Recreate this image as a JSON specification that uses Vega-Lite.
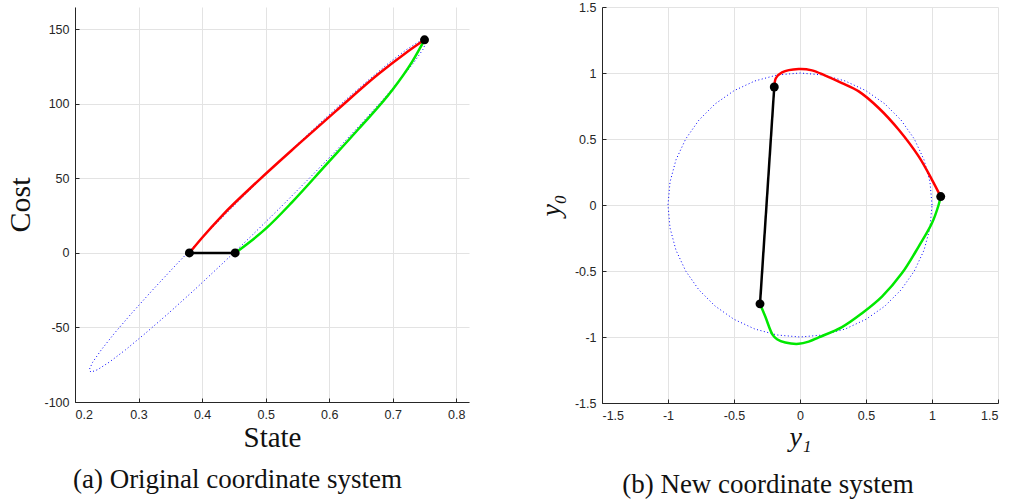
{
  "$schema": "https://vega.github.io/schema/vega-lite/v6.json",
  "background": "white",
  "padding": {"left": 5, "top": 1, "right": 3, "bottom": 3},
  "spacing": 68,
  "config": {
    "view": {"stroke": null},
    "axis": {
      "grid": true,
      "gridColor": "#e3e3e3",
      "gridWidth": 1,
      "domainColor": "#262626",
      "domainWidth": 1,
      "tickColor": "#262626",
      "tickSize": -4,
      "labelPadding": 10,
      "labelFont": "Liberation Sans",
      "labelFontSize": 12.5,
      "labelColor": "#262626",
      "titleFont": "Liberation Serif",
      "titleFontWeight": "normal",
      "titleColor": "#111111",
      "titleFontSize": 28,
      "labelExpr": "replace(format(datum.value, '~g'), '\u2212', '-')"
    }
  },
  "datasets": {
    "L": [
      {"s": "e", "i": 0, "x": 0.75, "y": 143.0},
      {"s": "e", "i": 1, "x": 0.7526, "y": 141.3},
      {"s": "e", "i": 2, "x": 0.7472, "y": 136.3},
      {"s": "e", "i": 3, "x": 0.7338, "y": 128.1},
      {"s": "e", "i": 4, "x": 0.7130, "y": 116.9},
      {"s": "e", "i": 5, "x": 0.6853, "y": 103.2},
      {"s": "e", "i": 6, "x": 0.6517, "y": 87.3},
      {"s": "e", "i": 7, "x": 0.6130, "y": 69.6},
      {"s": "e", "i": 8, "x": 0.5705, "y": 50.9},
      {"s": "e", "i": 9, "x": 0.5255, "y": 31.5},
      {"s": "e", "i": 10, "x": 0.4793, "y": 12.1},
      {"s": "e", "i": 11, "x": 0.4334, "y": -6.6},
      {"s": "e", "i": 12, "x": 0.3891, "y": -24.3},
      {"s": "e", "i": 13, "x": 0.3479, "y": -40.2},
      {"s": "e", "i": 14, "x": 0.3108, "y": -53.9},
      {"s": "e", "i": 15, "x": 0.2792, "y": -65.1},
      {"s": "e", "i": 16, "x": 0.2538, "y": -73.3},
      {"s": "e", "i": 17, "x": 0.2356, "y": -78.3},
      {"s": "e", "i": 18, "x": 0.2250, "y": -80.0},
      {"s": "e", "i": 19, "x": 0.2224, "y": -78.3},
      {"s": "e", "i": 20, "x": 0.2278, "y": -73.3},
      {"s": "e", "i": 21, "x": 0.2412, "y": -65.1},
      {"s": "e", "i": 22, "x": 0.2620, "y": -53.9},
      {"s": "e", "i": 23, "x": 0.2897, "y": -40.2},
      {"s": "e", "i": 24, "x": 0.3233, "y": -24.3},
      {"s": "e", "i": 25, "x": 0.3620, "y": -6.6},
      {"s": "e", "i": 26, "x": 0.4045, "y": 12.1},
      {"s": "e", "i": 27, "x": 0.4495, "y": 31.5},
      {"s": "e", "i": 28, "x": 0.4957, "y": 50.9},
      {"s": "e", "i": 29, "x": 0.5416, "y": 69.6},
      {"s": "e", "i": 30, "x": 0.5859, "y": 87.3},
      {"s": "e", "i": 31, "x": 0.6271, "y": 103.2},
      {"s": "e", "i": 32, "x": 0.6642, "y": 116.9},
      {"s": "e", "i": 33, "x": 0.6958, "y": 128.1},
      {"s": "e", "i": 34, "x": 0.7212, "y": 136.3},
      {"s": "e", "i": 35, "x": 0.7394, "y": 141.3},
      {"s": "e", "i": 36, "x": 0.75, "y": 143.0},
      {"s": "r", "i": 0, "x": 0.38, "y": 0},
      {"s": "r", "i": 1, "x": 0.40, "y": 10.2},
      {"s": "r", "i": 2, "x": 0.4316, "y": 25.1},
      {"s": "r", "i": 3, "x": 0.489, "y": 48.7},
      {"s": "r", "i": 4, "x": 0.55, "y": 72.3},
      {"s": "r", "i": 5, "x": 0.61, "y": 95.0},
      {"s": "r", "i": 6, "x": 0.678, "y": 120.2},
      {"s": "r", "i": 7, "x": 0.72, "y": 134.0},
      {"s": "r", "i": 8, "x": 0.75, "y": 143},
      {"s": "g", "i": 0, "x": 0.452, "y": 0},
      {"s": "g", "i": 1, "x": 0.4998, "y": 16.1},
      {"s": "g", "i": 2, "x": 0.5417, "y": 34.1},
      {"s": "g", "i": 3, "x": 0.5942, "y": 58.7},
      {"s": "g", "i": 4, "x": 0.6465, "y": 83.3},
      {"s": "g", "i": 5, "x": 0.699, "y": 109.1},
      {"s": "g", "i": 6, "x": 0.7304, "y": 128.2},
      {"s": "g", "i": 7, "x": 0.75, "y": 143},
      {"s": "k", "i": 0, "x": 0.38, "y": 0},
      {"s": "k", "i": 1, "x": 0.452, "y": 0},
      {"s": "d", "i": 0, "x": 0.38, "y": 0},
      {"s": "d", "i": 1, "x": 0.452, "y": 0},
      {"s": "d", "i": 2, "x": 0.75, "y": 143}
    ],
    "R": [
      {"s": "e", "i": 0, "x": 1.0, "y": 0.0},
      {"s": "e", "i": 1, "x": 0.9848, "y": 0.1736},
      {"s": "e", "i": 2, "x": 0.9397, "y": 0.3420},
      {"s": "e", "i": 3, "x": 0.8660, "y": 0.5},
      {"s": "e", "i": 4, "x": 0.7660, "y": 0.6428},
      {"s": "e", "i": 5, "x": 0.6428, "y": 0.7660},
      {"s": "e", "i": 6, "x": 0.5, "y": 0.8660},
      {"s": "e", "i": 7, "x": 0.3420, "y": 0.9397},
      {"s": "e", "i": 8, "x": 0.1736, "y": 0.9848},
      {"s": "e", "i": 9, "x": 0.0, "y": 1.0},
      {"s": "e", "i": 10, "x": -0.1736, "y": 0.9848},
      {"s": "e", "i": 11, "x": -0.3420, "y": 0.9397},
      {"s": "e", "i": 12, "x": -0.5, "y": 0.8660},
      {"s": "e", "i": 13, "x": -0.6428, "y": 0.7660},
      {"s": "e", "i": 14, "x": -0.7660, "y": 0.6428},
      {"s": "e", "i": 15, "x": -0.8660, "y": 0.5},
      {"s": "e", "i": 16, "x": -0.9397, "y": 0.3420},
      {"s": "e", "i": 17, "x": -0.9848, "y": 0.1736},
      {"s": "e", "i": 18, "x": -1.0, "y": 0.0},
      {"s": "e", "i": 19, "x": -0.9848, "y": -0.1736},
      {"s": "e", "i": 20, "x": -0.9397, "y": -0.3420},
      {"s": "e", "i": 21, "x": -0.8660, "y": -0.5},
      {"s": "e", "i": 22, "x": -0.7660, "y": -0.6428},
      {"s": "e", "i": 23, "x": -0.6428, "y": -0.7660},
      {"s": "e", "i": 24, "x": -0.5, "y": -0.8660},
      {"s": "e", "i": 25, "x": -0.3420, "y": -0.9397},
      {"s": "e", "i": 26, "x": -0.1736, "y": -0.9848},
      {"s": "e", "i": 27, "x": 0.0, "y": -1.0},
      {"s": "e", "i": 28, "x": 0.1736, "y": -0.9848},
      {"s": "e", "i": 29, "x": 0.3420, "y": -0.9397},
      {"s": "e", "i": 30, "x": 0.5, "y": -0.8660},
      {"s": "e", "i": 31, "x": 0.6428, "y": -0.7660},
      {"s": "e", "i": 32, "x": 0.7660, "y": -0.6428},
      {"s": "e", "i": 33, "x": 0.8660, "y": -0.5},
      {"s": "e", "i": 34, "x": 0.9397, "y": -0.3420},
      {"s": "e", "i": 35, "x": 0.9848, "y": -0.1736},
      {"s": "e", "i": 36, "x": 1.0, "y": 0.0},
      {"s": "r", "i": 0, "x": -0.195, "y": 0.894},
      {"s": "r", "i": 1, "x": -0.182, "y": 0.962},
      {"s": "r", "i": 2, "x": -0.136, "y": 1.005},
      {"s": "r", "i": 3, "x": -0.010, "y": 1.030},
      {"s": "r", "i": 4, "x": 0.091, "y": 1.020},
      {"s": "r", "i": 5, "x": 0.192, "y": 0.980},
      {"s": "r", "i": 6, "x": 0.318, "y": 0.924},
      {"s": "r", "i": 7, "x": 0.445, "y": 0.861},
      {"s": "r", "i": 8, "x": 0.596, "y": 0.735},
      {"s": "r", "i": 9, "x": 0.748, "y": 0.570},
      {"s": "r", "i": 10, "x": 0.899, "y": 0.368},
      {"s": "r", "i": 11, "x": 1.0, "y": 0.191},
      {"s": "r", "i": 12, "x": 1.066, "y": 0.064},
      {"s": "g", "i": 0, "x": 1.066, "y": 0.064},
      {"s": "g", "i": 1, "x": 1.05, "y": 0.0},
      {"s": "g", "i": 2, "x": 1.0, "y": -0.137},
      {"s": "g", "i": 3, "x": 0.899, "y": -0.315},
      {"s": "g", "i": 4, "x": 0.773, "y": -0.516},
      {"s": "g", "i": 5, "x": 0.621, "y": -0.694},
      {"s": "g", "i": 6, "x": 0.470, "y": -0.820},
      {"s": "g", "i": 7, "x": 0.318, "y": -0.925},
      {"s": "g", "i": 8, "x": 0.142, "y": -1.003},
      {"s": "g", "i": 9, "x": 0.066, "y": -1.035},
      {"s": "g", "i": 10, "x": -0.010, "y": -1.052},
      {"s": "g", "i": 11, "x": -0.111, "y": -1.042},
      {"s": "g", "i": 12, "x": -0.174, "y": -1.017},
      {"s": "g", "i": 13, "x": -0.207, "y": -0.984},
      {"s": "g", "i": 14, "x": -0.263, "y": -0.845},
      {"s": "g", "i": 15, "x": -0.303, "y": -0.749},
      {"s": "k", "i": 0, "x": -0.195, "y": 0.894},
      {"s": "k", "i": 1, "x": -0.303, "y": -0.749},
      {"s": "d", "i": 0, "x": -0.195, "y": 0.894},
      {"s": "d", "i": 1, "x": -0.303, "y": -0.749},
      {"s": "d", "i": 2, "x": 1.066, "y": 0.064}
    ]
  },
  "hconcat": [
    {
      "width": 394,
      "height": 395,
      "title": {"text": "(a) Original coordinate system", "orient": "bottom", "frame": "bounds", "anchor": "middle", "font": "Liberation Serif", "fontSize": 27, "fontWeight": "normal", "color": "#111111", "offset": 14},
      "data": {"name": "L"},
      "encoding": {
        "x": {"field": "x", "type": "quantitative", "scale": {"domain": [0.2, 0.82], "nice": false, "zero": false}, "axis": {"title": "State", "titleFontSize": 29, "values": [0.2, 0.3, 0.4, 0.5, 0.6, 0.7, 0.8], "titlePadding": 3}},
        "y": {"field": "y", "type": "quantitative", "scale": {"domain": [-100, 165], "nice": false, "zero": false}, "axis": {"title": "Cost", "titleFontSize": 30, "values": [-100, -50, 0, 50, 100, 150], "titlePadding": 8}},
        "order": {"field": "i", "type": "quantitative"}
      },
      "layer": [
        {"transform": [{"filter": "datum.s == 'e'"}], "mark": {"type": "line", "color": "#0000ff", "strokeWidth": 1, "strokeDash": [1, 2.5]}},
        {"transform": [{"filter": "datum.s == 'r'"}], "mark": {"type": "line", "color": "#ff0000", "strokeWidth": 2.5, "interpolate": "monotone"}},
        {"transform": [{"filter": "datum.s == 'g'"}], "mark": {"type": "line", "color": "#00e800", "strokeWidth": 2.5, "interpolate": "monotone"}},
        {"transform": [{"filter": "datum.s == 'k'"}], "mark": {"type": "line", "color": "#000000", "strokeWidth": 2.5}},
        {"transform": [{"filter": "datum.s == 'd'"}], "mark": {"type": "point", "filled": true, "color": "#000000", "size": 80, "opacity": 1}}
      ]
    },
    {
      "width": 396,
      "height": 396,
      "title": {"text": "(b) New coordinate system", "orient": "bottom", "frame": "bounds", "anchor": "middle", "font": "Liberation Serif", "fontSize": 27, "fontWeight": "normal", "color": "#111111", "offset": 20},
      "data": {"name": "R"},
      "encoding": {
        "x": {"field": "x", "type": "quantitative", "scale": {"domain": [-1.5, 1.5], "nice": false, "zero": false}, "axis": {"title": "y₁", "titleFontStyle": "italic", "values": [-1.5, -1, -0.5, 0, 0.5, 1, 1.5], "titlePadding": 2}},
        "y": {"field": "y", "type": "quantitative", "scale": {"domain": [-1.5, 1.5], "nice": false, "zero": false}, "axis": {"title": "y₀", "titleFontStyle": "italic", "values": [-1.5, -1, -0.5, 0, 0.5, 1, 1.5], "titlePadding": 9}},
        "order": {"field": "i", "type": "quantitative"}
      },
      "layer": [
        {"transform": [{"filter": "datum.s == 'e'"}], "mark": {"type": "line", "color": "#0000ff", "strokeWidth": 1, "strokeDash": [1, 2.5]}},
        {"transform": [{"filter": "datum.s == 'r'"}], "mark": {"type": "line", "color": "#ff0000", "strokeWidth": 2.5, "interpolate": "catmull-rom"}},
        {"transform": [{"filter": "datum.s == 'g'"}], "mark": {"type": "line", "color": "#00e800", "strokeWidth": 2.5, "interpolate": "catmull-rom"}},
        {"transform": [{"filter": "datum.s == 'k'"}], "mark": {"type": "line", "color": "#000000", "strokeWidth": 2.5}},
        {"transform": [{"filter": "datum.s == 'd'"}], "mark": {"type": "point", "filled": true, "color": "#000000", "size": 80, "opacity": 1}}
      ]
    }
  ]
}
